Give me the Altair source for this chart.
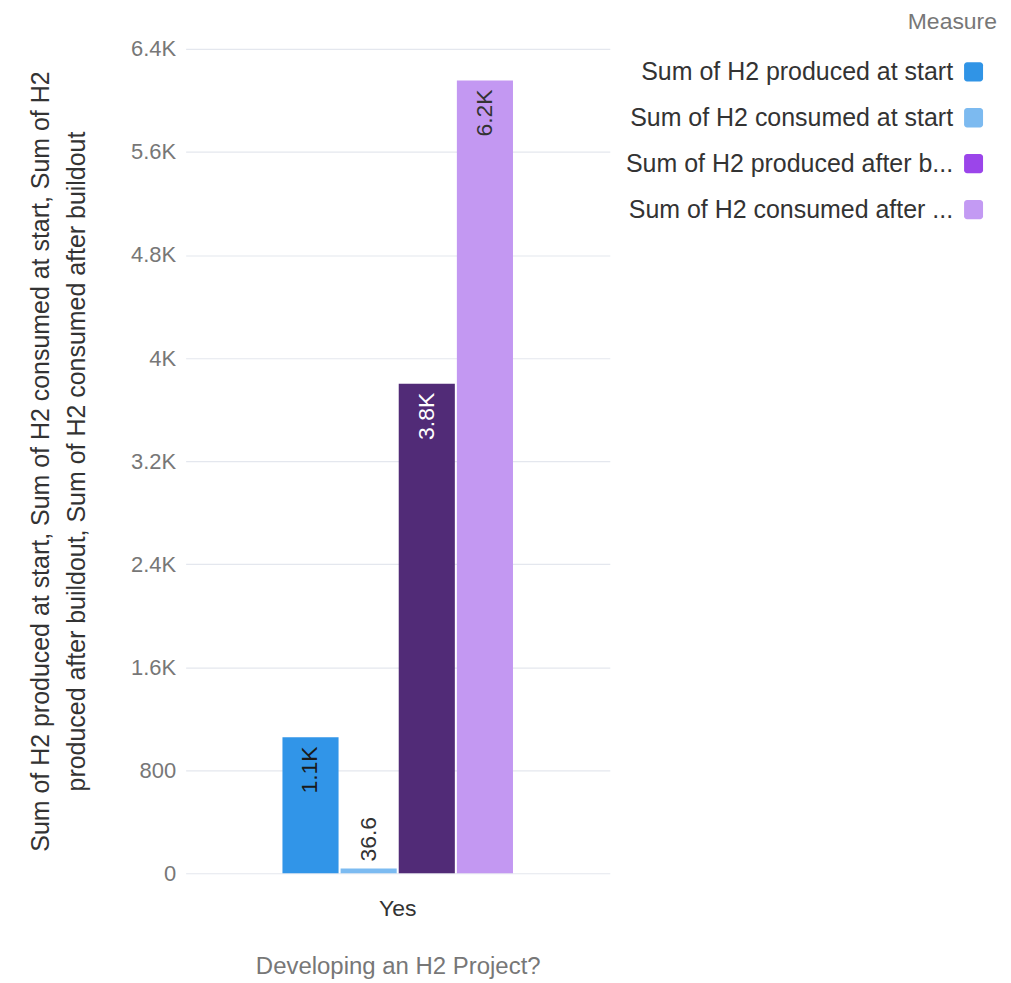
import altair as alt
import pandas as pd

# ---- data ----
category = ["Yes"]
series = [
    "Sum of H2 produced at start",
    "Sum of H2 consumed at start",
    "Sum of H2 produced after buildout",
    "Sum of H2 consumed after buildout",
]
values = [1055, 36.6, 3800, 6155]
legend_labels = [
    "Sum of H2 produced at start",
    "Sum of H2 consumed at start",
    "Sum of H2 produced after b...",
    "Sum of H2 consumed after ...",
]
bar_colors = ["#3195E8", "#7CBBF1", "#512B77", "#C398F2"]
legend_colors = ["#3094E6", "#7CBAF0", "#9B45EA", "#C39AF3"]
label_colors = ["#1a1a1a", "#333333", "#ffffff", "#333333"]
y_ticks = [0, 800, 1600, 2400, 3200, 4000, 4800, 5600, 6400]

x_title = "Developing an H2 Project?"
y_title = [
    "Sum of H2 produced at start, Sum of H2 consumed at start, Sum of H2",
    "produced after buildout, Sum of H2 consumed after buildout",
]
legend_title = "Measure"

FONT = "Liberation Sans"

df = pd.DataFrame({
    "category": category * len(series),
    "series": series,
    "value": values,
    "label_color": label_colors,
})

base = alt.Chart(df).encode(
    x=alt.X(
        "category:N",
        title=x_title,
        scale=alt.Scale(paddingInner=0, paddingOuter=0.42),
        axis=alt.Axis(
            labelAngle=0, labelColor="#333333", labelFontSize=23, labelPadding=24,
            domain=False, ticks=False, titleColor="#777777", titleFontSize=24,
            titleFontWeight="normal", titlePadding=34, labelFont=FONT, titleFont=FONT,
        ),
    ),
    xOffset=alt.XOffset("series:N", sort=series,
                        scale=alt.Scale(paddingInner=0.035, paddingOuter=0)),
    y=alt.Y(
        "value:Q",
        scale=alt.Scale(domain=[0, 6400], nice=False),
        axis=alt.Axis(
            values=y_ticks,
            labelExpr="datum.value >= 1000 ? format(datum.value / 1000, '~g') + 'K' : datum.label",
            grid=True, gridColor="#E4E7EE", gridWidth=1.2, domain=False, ticks=False,
            labelColor="#777777", labelFontSize=22, labelPadding=10, labelFont=FONT,
            title=y_title, titleColor="#333333", titleFontSize=25, titleFontWeight="normal",
            titleFont=FONT, titlePadding=41, titleLineHeight=36,
        ),
    ),
)

bars = base.mark_bar().encode(
    color=alt.Color("series:N", scale=alt.Scale(domain=series, range=bar_colors), legend=None)
)

label_expr = ("datum.value >= 1000 ? format(datum.value / 1000, '.1f') + 'K' : "
              "format(datum.value, '.1f')")

inside = base.transform_filter("datum.value >= 500").transform_calculate(
    lbl=label_expr
).mark_text(angle=270, align="right", baseline="middle", dx=-9, fontSize=23, font=FONT).encode(
    text="lbl:N", color=alt.Color("label_color:N", scale=None)
)

outside = base.transform_filter("datum.value < 500").transform_calculate(
    lbl=label_expr
).mark_text(angle=270, align="left", baseline="middle", dx=7, fontSize=23, font=FONT).encode(
    text="lbl:N", color=alt.Color("label_color:N", scale=None)
)

main = alt.layer(bars, inside, outside).properties(width=425, height=826)

# ---- custom legend (labels left of swatches) ----
leg_df = pd.DataFrame({"series": series, "legend_label": legend_labels, "legend_color": legend_colors})
leg_base = alt.Chart(leg_df).encode(
    y=alt.Y("series:N", sort=series, axis=None, scale=alt.Scale(paddingInner=0, paddingOuter=0))
)
leg_sw = leg_base.mark_bar(height=alt.RelativeBandSize(0.42), cornerRadius=3).encode(
    x=alt.value(345), x2=alt.value(364), color=alt.Color("legend_color:N", scale=None)
)
leg_tx = leg_base.mark_text(align="right", baseline="middle", fontSize=25, font=FONT,
                            color="#333333").encode(x=alt.value(334), text="legend_label:N")
legend = alt.layer(leg_sw, leg_tx).properties(
    width=378, height=184,
    title=alt.TitleParams(legend_title, anchor="end", color="#777777", fontSize=23,
                          fontWeight="normal", font=FONT, offset=15),
)

chart = alt.hconcat(main, legend, spacing=10).properties(
    padding={"left": 20, "top": 2, "right": 6, "bottom": 4}
).configure_view(stroke=None)

chart.save("out.html", embed_options={"renderer": "svg", "actions": False})
